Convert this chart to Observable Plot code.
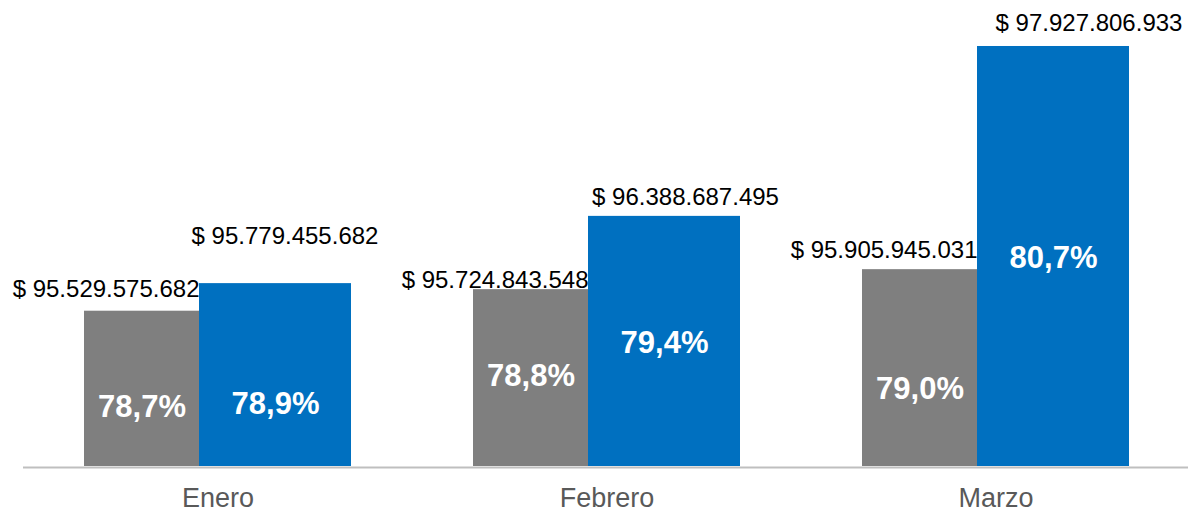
<!DOCTYPE html>
<html>
<head>
<meta charset="utf-8">
<script src="https://cdn.jsdelivr.net/npm/d3@7"></script>
<script src="https://cdn.jsdelivr.net/npm/@observablehq/plot@0.6"></script>
<style>
  html, body { margin: 0; padding: 0; background: #ffffff; }
  #chart svg { display: block; font-family: "Liberation Sans", Arial, sans-serif; }
</style>
</head>
<body>
<div id="chart"></div>
<script>
// ---- data ----
const months = ["Enero", "Febrero", "Marzo"];
const grayValues = [95529575682, 95724843548, 95905945031];
const blueValues = [95779455682, 96388687495, 97927806933];
const grayPct = ["78,7%", "78,8%", "79,0%"];
const bluePct = ["78,9%", "79,4%", "80,7%"];
// where each label sits, in the chart's value units
const grayAmountAt = [95.7262e9, 95.8077e9, 96.0795e9];
const blueAmountAt = [96.2064e9, 96.5624e9, 98.1334e9];
const grayPctAt = [94.660e9, 94.941e9, 94.820e9];
const bluePctAt = [94.684e9, 95.237e9, 96.007e9];
// value-axis extent (hidden axis)
const yMin = 94.1226e9;
const yMax = 98.3445e9;

const loc = d3.formatLocale({decimal: ",", thousands: ".", grouping: [3], currency: ["$", ""]});
const fmt = loc.format(",d");

const gray = months.map((m, i) => ({month: m, value: grayValues[i], pct: grayPct[i], amtAt: grayAmountAt[i], pctAt: grayPctAt[i], label: "$ " + fmt(grayValues[i])}));
const blue = months.map((m, i) => ({month: m, value: blueValues[i], pct: bluePct[i], amtAt: blueAmountAt[i], pctAt: bluePctAt[i], label: "$ " + fmt(blueValues[i])}));

const GRAY = "#7f7f7f";
const BLUE = "#0070c0";

const chart = Plot.plot({
  width: 1188,
  height: 513,
  marginTop: 0,
  marginBottom: 47,
  marginLeft: 0,
  marginRight: 0,
  x: {domain: months, paddingInner: 0.3145, paddingOuter: 0.1822, align: 0.585, axis: null},
  y: {domain: [yMin, yMax], axis: null},
  marks: [
    Plot.barY(gray, {x: "month", y1: () => yMin, y2: "value", fill: GRAY, insetRight: 152}),
    Plot.barY(blue, {x: "month", y1: () => yMin, y2: "value", fill: BLUE, insetLeft: 115}),
    Plot.ruleY([yMin], {stroke: "#bfbfbf", strokeWidth: 2, dy: 1, insetLeft: 23}),
    Plot.text(gray, {x: "month", y: "amtAt", text: "label", textAnchor: "end", dx: -18.5, fontSize: 24, fill: "#000"}),
    Plot.text(blue.slice(0, 1), {x: "month", y: "amtAt", text: "label", dx: 67, fontSize: 24, fill: "#000"}),
    Plot.text(blue.slice(1, 2), {x: "month", y: "amtAt", text: "label", dx: 78.5, fontSize: 24, fill: "#000"}),
    Plot.text(blue.slice(2), {x: "month", y: "amtAt", text: "label", dx: 93, fontSize: 24, fill: "#000"}),
    Plot.text(gray, {x: "month", y: "pctAt", text: "pct", dx: -76, fontSize: 31, fontWeight: "bold", fill: "#fff"}),
    Plot.text(blue, {x: "month", y: "pctAt", text: "pct", dx: 57.5, fontSize: 31, fontWeight: "bold", fill: "#fff"}),
    Plot.axisX(months, {tickSize: 0, tickPadding: 21, fontSize: 27, fill: "#595959", label: null})
  ]
});
document.getElementById("chart").appendChild(chart);
</script>
</body>
</html>
